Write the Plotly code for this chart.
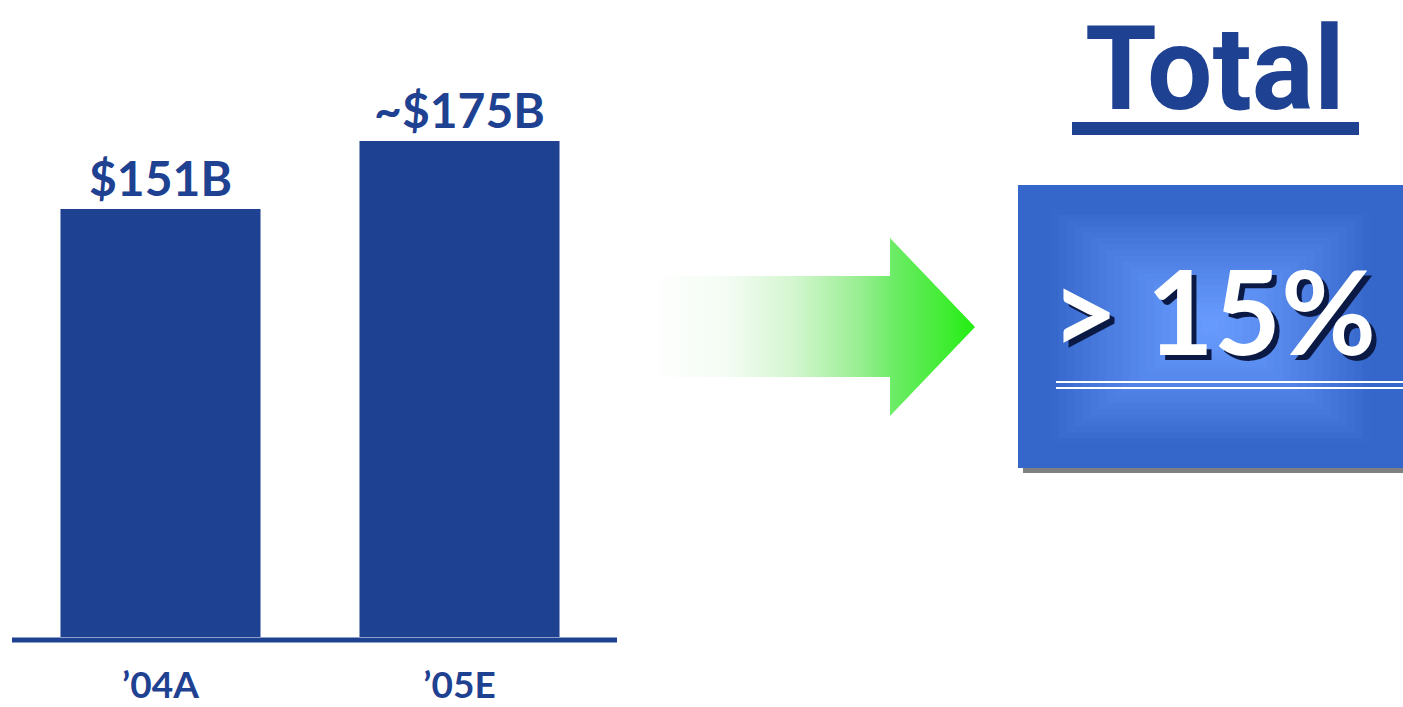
import plotly.graph_objects as go

W, H = 1403, 707

# ---- data ----
categories = ["\u201904A", "\u201905E"]
values = [151, 175]
value_labels = ["$151B", "~$175B"]
headline = "Total"
growth_label = "> 15%"

BLUE = "#1F4191"
FONT = "Lato"

def px(x):
    return x / W

def py(y):
    return 1 - y / H

fig = go.Figure()

# bars (pixel geometry: baseline at y=637, 2.834 px per $B, centers 160.5 / 459.5)
base_y = 637
ppu = 428 / 151
top_y = 100
fig.add_trace(go.Bar(
    x=[0, 1], y=values, width=0.669,
    marker=dict(color=BLUE, line=dict(width=0)),
    text=value_labels, textposition="outside", cliponaxis=False,
    textfont=dict(family=FONT, size=48, color=BLUE, weight=700),
    hoverinfo="skip", xaxis="x", yaxis="y",
))

# arrow on a pixel overlay axis
arrow_x = [648, 890, 890, 975, 890, 890, 648, 648]
arrow_y = [276, 276, 238, 327, 416, 377, 377, 276]
fig.add_trace(go.Scatter(
    x=arrow_x, y=arrow_y, mode="lines", fill="toself",
    line=dict(width=0, color="rgba(0,0,0,0)"),
    fillgradient=dict(type="horizontal", colorscale=[
        [0.0, "#FFFFFF"], [0.25, "#F3FCF3"], [0.45, "#D2F6CE"],
        [0.65, "#97EE90"], [0.75, "#6CEC66"], [0.9, "#44EC36"], [1.0, "#22EE11"]]),
    hoverinfo="skip", xaxis="x2", yaxis="y2", showlegend=False,
))

shapes = []
# baseline
shapes.append(dict(type="line", xref="paper", yref="paper",
                   x0=px(12), x1=px(617), y0=py(640), y1=py(640),
                   line=dict(color=BLUE, width=5)))
# Total underline
shapes.append(dict(type="rect", xref="paper", yref="paper",
                   x0=px(1072), x1=px(1359), y0=py(122), y1=py(135),
                   fillcolor=BLUE, line=dict(width=0)))
# box shadow
shapes.append(dict(type="rect", xref="paper", yref="paper",
                   x0=px(1023), x1=px(1403), y0=py(190), y1=py(473),
                   fillcolor="#808080", line=dict(width=0)))
# box with stepped rectangular gradient
bx0, bx1, by0, by1 = 1018, 1403, 185, 468
cx, cy = (bx0 + bx1) / 2, (by0 + by1) / 2
hw, hh = (bx1 - bx0) / 2, (by1 - by0) / 2
edge = (53, 102, 201)
center = (104, 155, 254)
N = 24
for i in range(N):
    t = 1 - i / N
    k = min(1.0, t / 0.85) ** 1.3
    c = tuple(int(round(center[j] + (edge[j] - center[j]) * k)) for j in range(3))
    shapes.append(dict(type="rect", xref="paper", yref="paper",
                       x0=px(cx - hw * t), x1=px(cx + hw * t),
                       y0=py(cy - hh * t), y1=py(cy + hh * t),
                       fillcolor="rgb(%d,%d,%d)" % c, line=dict(width=0)))
# double white line
for yy in (382, 388):
    shapes.append(dict(type="line", xref="paper", yref="paper",
                       x0=px(1056), x1=px(1403), y0=py(yy), y1=py(yy),
                       line=dict(color="white", width=2)))

annotations = [
    dict(text=headline, xref="paper", yref="paper", x=px(1215), y=py(69),
         xanchor="center", yanchor="middle", showarrow=False, borderpad=0,
         font=dict(family="Roboto", size=116, color=BLUE, weight=700)),
    dict(text=growth_label, xref="paper", yref="paper", x=px(1213), y=py(310),
         xanchor="center", yanchor="middle", showarrow=False,
         font=dict(family=FONT, size=116, color="white", weight=700,
                   shadow="5px 5px 0px #0B1A44")),
]

xr0 = (12 - 160.5) / 299
xr1 = (617 - 160.5) / 299
fig.update_layout(
    width=W, height=H, margin=dict(l=0, r=0, t=0, b=0, autoexpand=False),
    paper_bgcolor="white", plot_bgcolor="rgba(0,0,0,0)",
    showlegend=False, shapes=shapes, annotations=annotations,
    xaxis=dict(domain=[px(12), px(617)], range=[xr0, xr1],
               tickmode="array", tickvals=[0, 1], ticktext=categories,
               tickfont=dict(family=FONT, size=37, color=BLUE, weight=700),
               showgrid=False, zeroline=False, showline=False, ticks="",
               ticklabelstandoff=23, anchor="y", fixedrange=True, automargin=False),
    yaxis=dict(domain=[py(base_y), py(top_y)], range=[0, (base_y - top_y) / ppu],
               visible=False, showgrid=False, zeroline=False, anchor="x",
               fixedrange=True, automargin=False),
    xaxis2=dict(domain=[0, 1], range=[0, W], visible=False, anchor="y2", fixedrange=True),
    yaxis2=dict(domain=[0, 1], range=[H, 0], visible=False, anchor="x2", fixedrange=True),
)

fig.write_html("out.html")
